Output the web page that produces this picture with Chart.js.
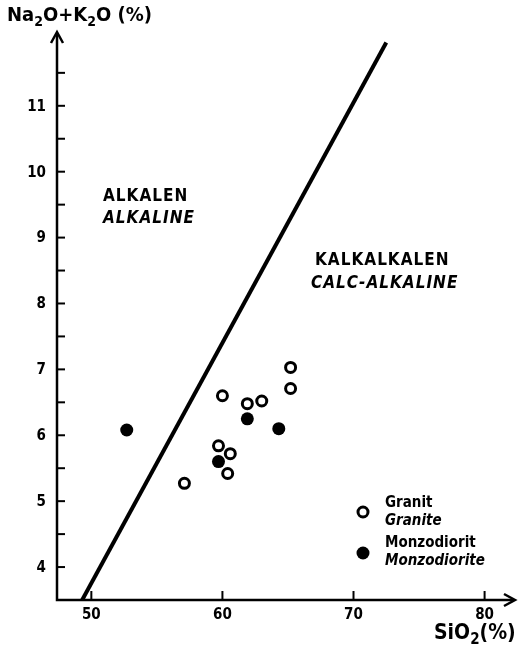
<!DOCTYPE html>
<html>
<head>
<meta charset="utf-8">
<script src="https://cdn.jsdelivr.net/npm/chart.js@4/dist/chart.umd.min.js"></script>
<style>
  html, body { margin: 0; padding: 0; background: #fff; }
  #wrap { width: 523px; height: 651px; position: relative; }
</style>
</head>
<body>
<div id="wrap"><canvas id="tasChart"></canvas></div>
<script>
// data
const granitSiO2 = [65.2, 65.2, 60.0, 61.9, 63.0, 59.7, 60.6, 60.4, 57.1];
const granitAlk  = [7.03, 6.71, 6.60, 6.48, 6.52, 5.84, 5.72, 5.42, 5.27];
const monzoSiO2  = [61.9, 64.3, 59.7, 52.7];
const monzoAlk   = [6.25, 6.10, 5.60, 6.08];
const boundarySiO2 = [49.3, 72.5];
const boundaryAlk  = [3.5, 11.96];

const xTicks = [50, 60, 70, 80];
const yTicks = [4, 5, 6, 7, 8, 9, 10, 11];
const yMinorTicks = [4.5, 5.5, 6.5, 7.5, 8.5, 9.5, 10.5, 11.5];

const FONT = "'DejaVu Sans Condensed', 'DejaVu Sans', sans-serif";

const toPoints = (xs, ys) => xs.map((x, i) => ({ x: x, y: ys[i] }));

// writes text where "_2" style pieces are drawn as lowered subscripts
function drawFormula(ctx, parts, x, y, size) {
    let cx = x;
    parts.forEach(p => {
        const sub = p.startsWith("_");
        const txt = sub ? p.slice(1) : p;
        ctx.font = "bold " + (sub ? Math.round(size * 0.72) : size) + "px " + FONT;
        ctx.fillText(txt, cx, sub ? y + size * 0.3 : y);
        cx += ctx.measureText(txt).width;
    });
}

/**
 * axes with arrows, inward ticks, labels and field names
 */
const decorations = {
    id: "decorations",
    afterDraw(chart) {
        const ctx = chart.ctx;
        const xs = chart.scales.x, ys = chart.scales.y;
        const area = chart.chartArea;
        const x0 = area.left, y0 = area.bottom;

        ctx.save();
        ctx.strokeStyle = "#000";
        ctx.fillStyle = "#000";

        // axes
        ctx.lineWidth = 2.5;
        ctx.beginPath();
        ctx.moveTo(x0, area.top + 2);
        ctx.lineTo(x0, y0);
        ctx.lineTo(area.right - 2, y0);
        ctx.stroke();

        // arrow heads
        ctx.beginPath();
        ctx.moveTo(x0 - 6, area.top + 11);
        ctx.lineTo(x0, area.top);
        ctx.lineTo(x0 + 6, area.top + 11);
        ctx.stroke();
        ctx.beginPath();
        ctx.moveTo(area.right - 11, y0 - 6);
        ctx.lineTo(area.right, y0);
        ctx.lineTo(area.right - 11, y0 + 6);
        ctx.stroke();

        // y ticks
        ctx.lineWidth = 2;
        ctx.font = "bold 15px " + FONT;
        ctx.textAlign = "right";
        ctx.textBaseline = "middle";
        yTicks.forEach(v => {
            const py = ys.getPixelForValue(v);
            ctx.beginPath();
            ctx.moveTo(x0, py);
            ctx.lineTo(x0 + 8, py);
            ctx.stroke();
            ctx.fillText(String(v), x0 - 11, py + 1);
        });
        yMinorTicks.forEach(v => {
            const py = ys.getPixelForValue(v);
            ctx.beginPath();
            ctx.moveTo(x0, py);
            ctx.lineTo(x0 + 8, py);
            ctx.stroke();
        });

        // x ticks
        ctx.textAlign = "center";
        xTicks.forEach(v => {
            const px = xs.getPixelForValue(v);
            ctx.beginPath();
            ctx.moveTo(px, y0);
            ctx.lineTo(px, y0 - 9);
            ctx.stroke();
            ctx.fillText(String(v), px, y0 + 15);
        });

        // axis titles
        ctx.textAlign = "left";
        drawFormula(ctx, ["Na", "_2", "O+K", "_2", "O (%)"], 7, 16, 20);
        drawFormula(ctx, ["SiO", "_2", "(%)"], 434, 634, 21);

        // field names (slightly spaced like the original lettering)
        ctx.letterSpacing = "1px";
        ctx.font = "bold 17px " + FONT;
        ctx.fillText("ALKALEN", 103, 197);
        ctx.fillText("KALKALKALEN", 315, 261);
        ctx.font = "italic bold 17px " + FONT;
        ctx.fillText("ALKALINE", 103, 219);
        ctx.fillText("CALC-ALKALINE", 311, 284);
        ctx.letterSpacing = "0px";

        // legend
        ctx.lineWidth = 3;
        ctx.beginPath();
        ctx.arc(363, 512, 5, 0, Math.PI * 2);
        ctx.stroke();
        ctx.beginPath();
        ctx.arc(363, 553, 6.5, 0, Math.PI * 2);
        ctx.fill();
        ctx.font = "bold 15px " + FONT;
        ctx.fillText("Granit", 385, 503);
        ctx.fillText("Monzodiorit", 385, 543);
        ctx.font = "italic bold 15px " + FONT;
        ctx.fillText("Granite", 385, 521);
        ctx.fillText("Monzodiorite", 385, 561);

        ctx.restore();
    }
};

new Chart(document.getElementById("tasChart"), {
    type: "scatter",
    data: {
        datasets: [
            {
                label: "Boundary",
                type: "line",
                data: toPoints(boundarySiO2, boundaryAlk),
                borderColor: "#000",
                borderWidth: 4,
                pointRadius: 0,
                fill: false,
                tension: 0
            },
            {
                label: "Granit",
                data: toPoints(granitSiO2, granitAlk),
                pointStyle: "circle",
                pointRadius: 5,
                pointBorderWidth: 3,
                pointBackgroundColor: "#fff",
                pointBorderColor: "#000"
            },
            {
                label: "Monzodiorit",
                data: toPoints(monzoSiO2, monzoAlk),
                pointStyle: "circle",
                pointRadius: 6.5,
                pointBorderWidth: 0,
                pointBackgroundColor: "#000",
                pointBorderColor: "#000"
            }
        ]
    },
    options: {
        responsive: true,
        maintainAspectRatio: false,
        animation: false,
        layout: { padding: { left: 57, right: 3, top: 32, bottom: 51 } },
        plugins: {
            legend: { display: false },
            tooltip: { enabled: false }
        },
        scales: {
            x: { type: "linear", min: 47.38, max: 82.32, display: false },
            y: { type: "linear", min: 3.5, max: 12.12, display: false }
        }
    },
    plugins: [decorations]
});
</script>
</body>
</html>
